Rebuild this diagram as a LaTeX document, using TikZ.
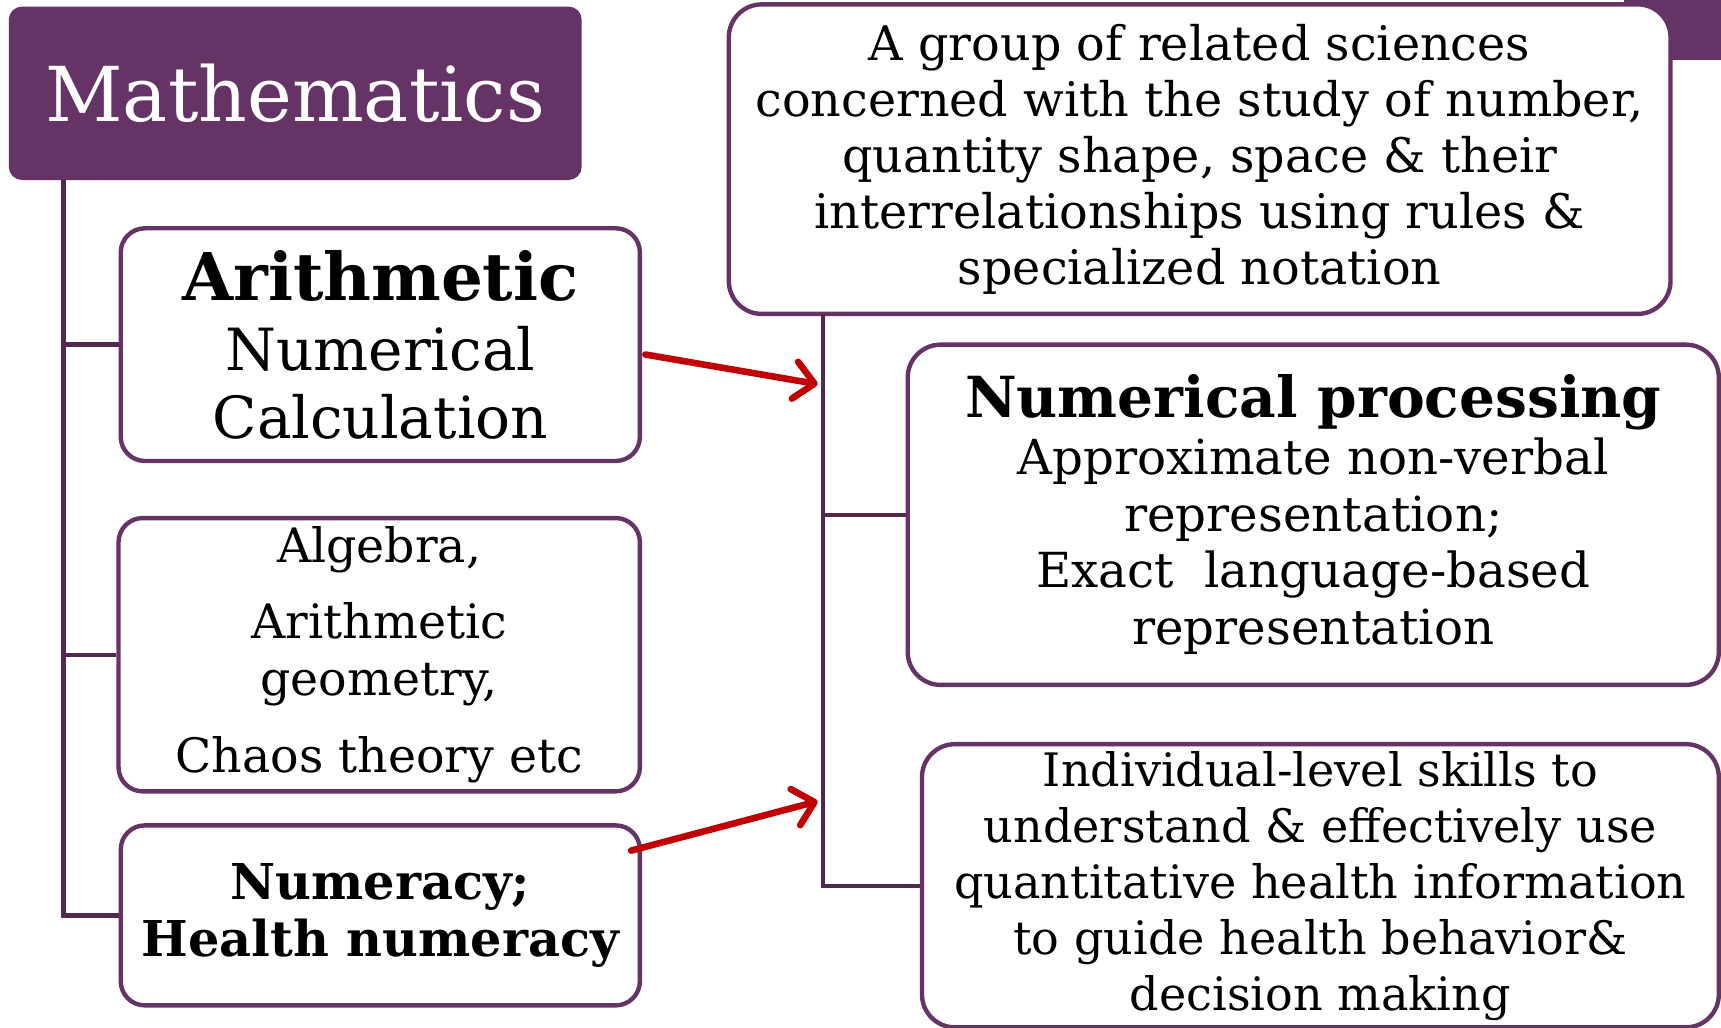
\documentclass[tikz,border=0pt]{standalone}
\usepackage{fontspec}
\setmainfont{DejaVu Serif}
\usetikzlibrary{arrows.meta}
\definecolor{mpurple}{HTML}{663366}
\definecolor{tpurple}{HTML}{52284F}
\definecolor{ared}{HTML}{C00000}
\begin{document}
\begin{tikzpicture}[x=0.5pt,y=-0.5pt,
 box/.style={draw=mpurple, line width=2pt, fill=white, rounded corners=11pt, align=center, inner sep=0pt, text=black},
 rbox/.style={box, rounded corners=15pt},
 tree/.style={draw=tpurple, line width=2pt},
 redarrow/.style={draw=ared, line width=3pt, line cap=round, -{Straight Barb[length=9pt,width=17pt,round]}}]
\useasboundingbox (0,0) rectangle (1568,936);
\fill[mpurple] (1480,0) rectangle (1568,55);
% left column
\node[fill=mpurple, rounded corners=6pt, minimum width=261pt, minimum height=79pt, inner sep=0pt, text=white, font=\fontsize{34.5}{40}\selectfont] (math) at (269,85) {Mathematics};
\node[box, minimum width=236.5pt, minimum height=106pt, font=\fontsize{26.5}{31}\selectfont] (arith) at (346.5,314)
 {{\fontsize{30}{33}\selectfont\bfseries Arithmetic}\\[1pt] Numerical\\ Calculation};
\node[box, minimum width=237.5pt, minimum height=124.5pt, font=\fontsize{21.6}{26}\selectfont] (alg) at (345.5,596.5)
 {Algebra,\\[9pt] Arithmetic\\ geometry,\\[9pt] Chaos theory etc};
\node[box, minimum width=236.5pt, minimum height=82pt, font=\fontsize{22.5}{26}\selectfont\bfseries] (num) at (346.5,834)
 {Numeracy;\\ Health numeracy};
% right column
\node[rbox, minimum width=429pt, minimum height=141pt, font=\fontsize{21.7}{25.5}\selectfont] (def) at (1093,145)
 {A group of related sciences\\ concerned with the study of number,\\ quantity shape, space \& their\\ interrelationships using rules \&\\ specialized notation};
\node[rbox, minimum width=369.5pt, minimum height=155pt, font=\fontsize{22}{25.8}\selectfont] (proc) at (1196.5,469)
 {{\fontsize{25.8}{28.5}\selectfont\bfseries Numerical processing}\\ Approximate non-verbal\\ representation;\\ Exact~~language-based\\ representation};
\node[rbox, minimum width=363pt, minimum height=129pt, font=\fontsize{21}{25.5}\selectfont] (health) at (1203,807)
 {Individual-level skills to\\ understand \& effectively use\\ quantitative health information\\ to guide health behavior\&\\ decision making};
% trees
\coordinate (tl) at (58,164);
\coordinate (tr) at (750,286);
\draw[tree] (tl) |- (arith.west);
\draw[tree] (tl) |- (alg.west);
\draw[tree] (tl) |- (num.west);
\draw[tree] (tr) |- (proc.west);
\draw[tree] (tr) |- (health.west);
% arrows
\coordinate (a1s) at (588,323);
\coordinate (a1e) at (745,350);
\coordinate (a2s) at (575,775);
\coordinate (a2e) at (745,730);
\draw[redarrow] (a1s) -- (a1e);
\draw[redarrow] (a2s) -- (a2e);
\end{tikzpicture}
\end{document}
